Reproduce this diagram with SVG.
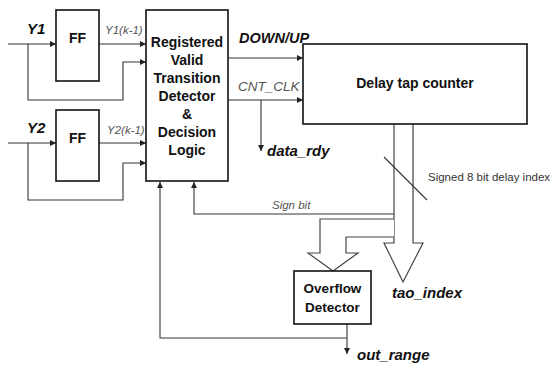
<svg xmlns="http://www.w3.org/2000/svg" width="553" height="365" viewBox="0 0 553 365">
  <style>
    .box { fill: #fff; stroke: #111; stroke-width: 1.6; }
    .wire { fill: none; stroke: #333; stroke-width: 1.1; }
    .bus { fill: #fff; stroke: #444; stroke-width: 1.2; }
    .lbl { font-family: "Liberation Sans", Arial, sans-serif; fill: #111; }
    .b { font-weight: bold; }
    .bi { font-weight: bold; font-style: italic; }
    .sig { font-style: italic; fill: #555; }
  </style>
  <defs>
    <marker id="arr" viewBox="0 0 6 6" refX="6" refY="3" markerWidth="6" markerHeight="6" orient="auto" markerUnits="userSpaceOnUse">
      <path d="M0,0 L6,3 L0,6 Z" fill="#222"/>
    </marker>
  </defs>

  <rect width="553" height="365" fill="#fff"/>

  <g id="connectors">
    <!-- Y1 input, register bypass -->
    <path class="wire" d="M8,44 H56" marker-end="url(#arr)"/>
    <path class="wire" d="M28,44 V100 H123 V62 H146" marker-end="url(#arr)"/>
    <path class="wire" d="M99,44 H146" marker-end="url(#arr)"/>
    <!-- Y2 input, register bypass -->
    <path class="wire" d="M8,143 H56" marker-end="url(#arr)"/>
    <path class="wire" d="M28,143 V200 H123 V163 H146" marker-end="url(#arr)"/>
    <path class="wire" d="M99,143 H146" marker-end="url(#arr)"/>
    <!-- detector to counter -->
    <path class="wire" d="M228,58 H303" marker-end="url(#arr)"/>
    <path class="wire" d="M228,100 H303" marker-end="url(#arr)"/>
    <path class="wire" d="M261,100 V151" marker-end="url(#arr)"/>
    <!-- sign bit feedback -->
    <path class="wire" d="M394,214 H194 V182" marker-end="url(#arr)"/>
    <!-- overflow output and feedback -->
    <path class="wire" d="M347,324 V354" marker-end="url(#arr)"/>
    <path class="wire" d="M347,338 H160 V182" marker-end="url(#arr)"/>
    <!-- delay index bus -->
    <path class="bus" d="M394,124 V243 H384 L403,282 L423,243 H413 V124"/>
    <path class="bus" d="M394,219 H320 V253 H308 L333,271 L358,253 H346 V237 H394"/>
    <!-- bus width slash -->
    <path class="wire" d="M384,157 L427,200" stroke="#555"/>
  </g>

  <g id="ff1">
    <rect class="box" x="56" y="10" width="43" height="71"/>
    <text class="lbl b" x="77.5" y="43" font-size="14" text-anchor="middle">FF</text>
  </g>
  <g id="ff2">
    <rect class="box" x="56" y="110" width="43" height="71"/>
    <text class="lbl b" x="77.5" y="143" font-size="14" text-anchor="middle">FF</text>
  </g>

  <g id="detector">
    <rect class="box" x="146" y="10" width="82" height="171"/>
    <g class="lbl b" font-size="14" text-anchor="middle">
      <text x="187" y="47">Registered</text>
      <text x="187" y="65">Valid</text>
      <text x="187" y="83">Transition</text>
      <text x="187" y="101">Detector</text>
      <text x="187" y="119">&amp;</text>
      <text x="187" y="137">Decision</text>
      <text x="187" y="155">Logic</text>
    </g>
  </g>

  <g id="counter">
    <rect class="box" x="303" y="44" width="224" height="80"/>
    <text class="lbl b" x="415" y="88" font-size="14" text-anchor="middle">Delay tap counter</text>
  </g>

  <g id="overflow">
    <rect class="box" x="294" y="271" width="77" height="53"/>
    <g class="lbl b" font-size="13.5" text-anchor="middle">
      <text x="332.5" y="293">Overflow</text>
      <text x="332.5" y="312">Detector</text>
    </g>
  </g>

  <g id="labels" class="lbl">
    <text class="bi" x="27" y="34" font-size="15">Y1</text>
    <text class="bi" x="27" y="133" font-size="15">Y2</text>
    <text class="sig" x="105" y="34" font-size="11.5">Y1(k-1)</text>
    <text class="sig" x="107" y="134" font-size="11.5">Y2(k-1)</text>
    <text class="bi" x="239" y="43" font-size="14.5">DOWN/UP</text>
    <text class="sig" x="238" y="91" font-size="13.5">CNT_CLK</text>
    <text class="bi" x="267" y="156" font-size="15">data_rdy</text>
    <text x="428" y="181" font-size="11.5" fill="#333">Signed 8 bit delay index</text>
    <text class="sig" x="272" y="209" font-size="11.5" fill="#333">Sign bit</text>
    <text class="bi" x="392" y="298" font-size="15">tao_index</text>
    <text class="bi" x="357" y="360" font-size="15">out_range</text>
  </g>
</svg>
